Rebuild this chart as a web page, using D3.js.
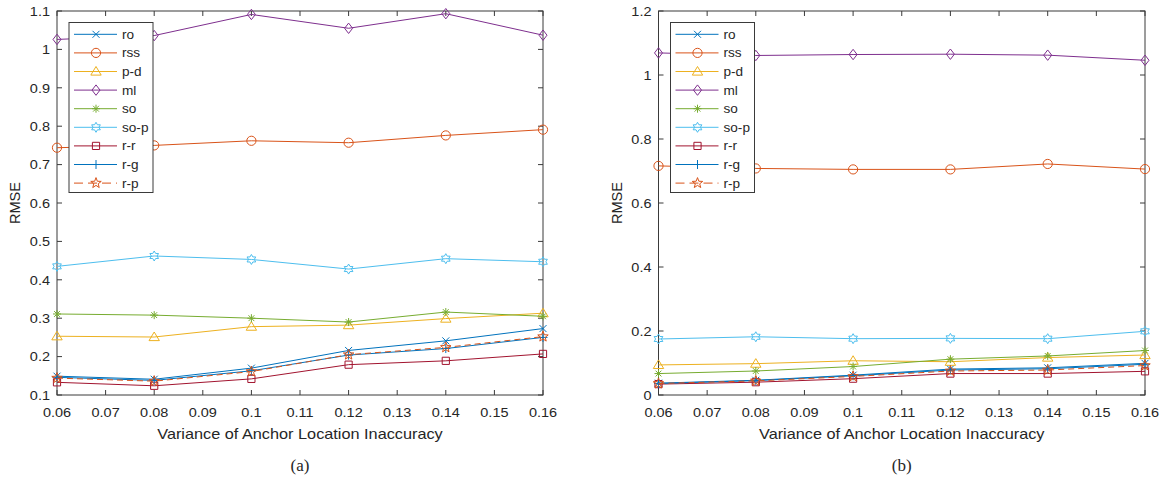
<!DOCTYPE html>
<html>
<head>
<meta charset="utf-8">
<script src="https://cdn.jsdelivr.net/npm/d3@7"></script>
<style>
  body { margin: 0; background: #fff; }
  text { font-family: "Liberation Sans", Arial, sans-serif; fill: #262626; }
</style>
</head>
<body>
<script>
// canvas
var width = 1165;
var height = 477;
var stretch = 1.115;   // text in the figure is a bit wider than tall

// data
var xValues = [0.06, 0.08, 0.10, 0.12, 0.14, 0.16];
var xTicks = [0.06, 0.07, 0.08, 0.09, 0.10, 0.11, 0.12, 0.13, 0.14, 0.15, 0.16];
var seriesNames = ["ro", "rss", "p-d", "ml", "so", "so-p", "r-r", "r-g", "r-p"];

// panel (a)
var yTicksA = [0.1, 0.2, 0.3, 0.4, 0.5, 0.6, 0.7, 0.8, 0.9, 1.0, 1.1];
var roA   = [0.149, 0.141, 0.170, 0.216, 0.241, 0.273];
var rssA  = [0.744, 0.750, 0.762, 0.757, 0.776, 0.791];
var pdA   = [0.253, 0.251, 0.278, 0.282, 0.299, 0.313];
var mlA   = [1.026, 1.036, 1.091, 1.055, 1.093, 1.037];
var soA   = [0.311, 0.308, 0.300, 0.290, 0.316, 0.305];
var sopA  = [0.435, 0.462, 0.453, 0.428, 0.455, 0.447];
var rrA   = [0.133, 0.124, 0.142, 0.179, 0.189, 0.207];
var rgA   = [0.146, 0.138, 0.163, 0.204, 0.221, 0.250];
var rpA   = [0.144, 0.136, 0.161, 0.205, 0.224, 0.252];

// panel (b)
var yTicksB = [0, 0.2, 0.4, 0.6, 0.8, 1.0, 1.2];
var roB   = [0.037, 0.046, 0.062, 0.081, 0.085, 0.099];
var rssB  = [0.716, 0.708, 0.705, 0.705, 0.722, 0.706];
var pdB   = [0.094, 0.098, 0.107, 0.104, 0.117, 0.125];
var mlB   = [1.069, 1.061, 1.064, 1.065, 1.062, 1.046];
var soB   = [0.067, 0.075, 0.089, 0.112, 0.122, 0.139];
var sopB  = [0.175, 0.182, 0.176, 0.177, 0.176, 0.199];
var rrB   = [0.034, 0.040, 0.051, 0.067, 0.067, 0.074];
var rgB   = [0.036, 0.045, 0.060, 0.078, 0.082, 0.096];
var rpB   = [0.036, 0.044, 0.058, 0.075, 0.078, 0.092];

// matlab default colours + marker for each series
var colors  = ["#0072BD", "#D95319", "#EDB120", "#7E2F8E", "#77AC30", "#4DBEEE", "#A2142F", "#0072BD", "#D95319"];
var markers = ["x", "o", "^", "d", "*", "h", "s", "+", "p"];

function starPath(n, ro, ri) {
  var pts = [];
  for (var i = 0; i < 2 * n; i++) {
    var a = -Math.PI / 2 + i * Math.PI / n;
    var r = i % 2 == 0 ? ro : ri;
    pts.push([r * Math.cos(a), r * Math.sin(a)]);
  }
  return "M" + pts.map(function(p) { return p[0].toFixed(2) + "," + p[1].toFixed(2); }).join("L") + "Z";
}

function markerPath(m) {
  switch (m) {
    case "x": return "M-3.5,-3.5L3.5,3.5M-3.5,3.5L3.5,-3.5";
    case "+": return "M-4.5,0L4.5,0M0,-4.5L0,4.5";
    case "o": return "M4.6,0A4.6,4.6 0 1,1 -4.6,0A4.6,4.6 0 1,1 4.6,0Z";
    case "^": return "M0,-5L5.2,3.6L-5.2,3.6Z";
    case "d": return "M0,-5.2L4,0L0,5.2L-4,0Z";
    case "*": return "M-4,0L4,0M0,-4L0,4M-2.9,-2.9L2.9,2.9M-2.9,2.9L2.9,-2.9";
    case "s": return "M-3.6,-3.6L3.6,-3.6L3.6,3.6L-3.6,3.6Z";
    case "h": return starPath(6, 5, 2.9);
    case "p": return starPath(5, 5.5, 2.3);
  }
}

var svg = d3.select("body")
  .append("svg")
  .attr("width", width)
  .attr("height", height);

// text helper: places text at (x,y) with the horizontal stretch
function addText(g, x, y, str, size, anchor) {
  return g.append("text")
    .attr("transform", "translate(" + x + "," + y + ") scale(" + stretch + ",1)")
    .attr("text-anchor", anchor || "start")
    .attr("font-size", size + "px")
    .text(str);
}

function drawPanel(opt) {
  var x = d3.scaleLinear().domain([0.06, 0.16]).range([opt.left, opt.right]);
  var y = d3.scaleLinear().domain(opt.yDomain).range([opt.bottom, opt.top]);
  var g = svg.append("g");
  var fmt = function(t) { return d3.format("~g")(+t.toFixed(2)); };

  // frame
  g.append("rect")
    .attr("x", opt.left).attr("y", opt.top)
    .attr("width", opt.right - opt.left).attr("height", opt.bottom - opt.top)
    .attr("fill", "none").attr("stroke", "#3a3a3a").attr("stroke-width", 1);

  // ticks, inward on all four sides
  var tl = 5;
  xTicks.forEach(function(t) {
    g.append("line").attr("x1", x(t)).attr("x2", x(t)).attr("y1", opt.bottom).attr("y2", opt.bottom - tl).attr("stroke", "#3a3a3a");
    g.append("line").attr("x1", x(t)).attr("x2", x(t)).attr("y1", opt.top).attr("y2", opt.top + tl).attr("stroke", "#3a3a3a");
    addText(g, x(t), opt.bottom + 22, fmt(t), 13, "middle");
  });
  opt.yTicks.forEach(function(t) {
    g.append("line").attr("x1", opt.left).attr("x2", opt.left + tl).attr("y1", y(t)).attr("y2", y(t)).attr("stroke", "#3a3a3a");
    g.append("line").attr("x1", opt.right).attr("x2", opt.right - tl).attr("y1", y(t)).attr("y2", y(t)).attr("stroke", "#3a3a3a");
    addText(g, opt.left - 7, y(t) + 4.7, fmt(t), 13, "end");
  });

  // axis labels + caption
  g.append("text")
    .attr("transform", "translate(" + (opt.left - 37) + "," + ((opt.top + opt.bottom) / 2) + ") rotate(-90)")
    .attr("text-anchor", "middle").attr("font-size", "14.6px").text("RMSE");
  addText(g, (opt.left + opt.right) / 2, opt.bottom + 44, "Variance of Anchor Location Inaccuracy", 14.6, "middle");
  g.append("text")
    .attr("x", (opt.left + opt.right) / 2).attr("y", 471)
    .attr("text-anchor", "middle").attr("font-size", "17px")
    .style("font-family", "'Liberation Serif', 'Times New Roman', serif")
    .text(opt.caption);

  var line = d3.line()
    .x(function(d, i) { return x(xValues[i]); })
    .y(function(d) { return y(d); });

  opt.series.forEach(function(vals, k) {
    g.append("path")
      .attr("d", line(vals))
      .attr("fill", "none")
      .attr("stroke", colors[k])
      .attr("stroke-width", 1)
      .attr("stroke-dasharray", seriesNames[k] == "r-p" ? "6,4" : null);
    g.selectAll(null)
      .data(vals)
      .enter()
      .append("path")
      .attr("transform", function(d, i) { return "translate(" + x(xValues[i]) + "," + y(d) + ")"; })
      .attr("d", markerPath(markers[k]))
      .attr("fill", "none")
      .attr("stroke", colors[k])
      .attr("stroke-width", 1);
  });

  // legend
  var lg = g.append("g");
  lg.append("rect")
    .attr("x", opt.legX).attr("y", 22.5)
    .attr("width", 84).attr("height", 170)
    .attr("fill", "#fff").attr("stroke", "#3a3a3a").attr("stroke-width", 1);
  seriesNames.forEach(function(name, k) {
    var ly = 34.3 + k * 18.6;
    lg.append("line")
      .attr("x1", opt.legX + 5).attr("x2", opt.legX + 48)
      .attr("y1", ly).attr("y2", ly)
      .attr("stroke", colors[k]).attr("stroke-width", 1)
      .attr("stroke-dasharray", name == "r-p" ? "9,5" : null);
    lg.append("path")
      .attr("transform", "translate(" + (opt.legX + 27) + "," + ly + ")")
      .attr("d", markerPath(markers[k]))
      .attr("fill", "none").attr("stroke", colors[k]).attr("stroke-width", 1);
    addText(lg, opt.legX + 53, ly + 4.5, name, 12.2);
  });
}

drawPanel({
  left: 57, right: 543, top: 11, bottom: 395,
  yDomain: [0.1, 1.1], yTicks: yTicksA, caption: "(a)", legX: 69,
  series: [roA, rssA, pdA, mlA, soA, sopA, rrA, rgA, rpA]
});

drawPanel({
  left: 658.5, right: 1145, top: 11, bottom: 395,
  yDomain: [0, 1.2], yTicks: yTicksB, caption: "(b)", legX: 670.5,
  series: [roB, rssB, pdB, mlB, soB, sopB, rrB, rgB, rpB]
});
</script>
</body>
</html>
